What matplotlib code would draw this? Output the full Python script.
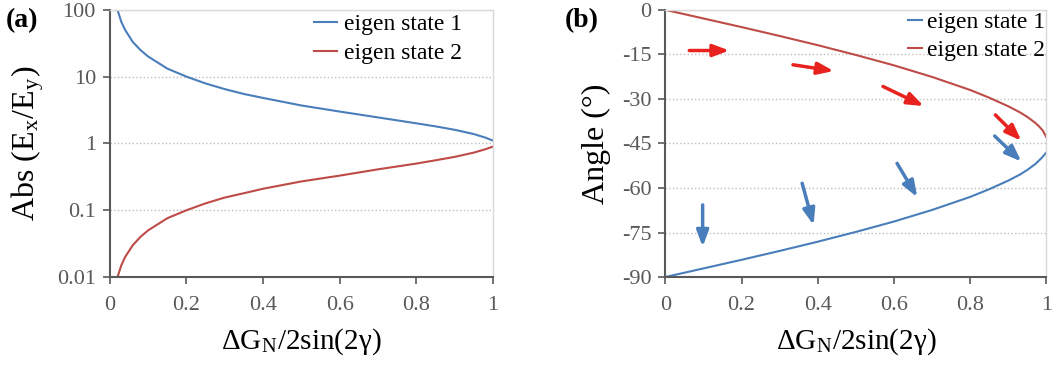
import matplotlib
matplotlib.use('Agg')
import matplotlib.pyplot as plt
import numpy as np

plt.rcParams['font.family'] = ['Liberation Serif', 'DejaVu Serif']
plt.rcParams['mathtext.fontset'] = 'stix'
plt.rcParams['axes.unicode_minus'] = False

# panel (a) : Abs(Ex/Ey) vs dG/2sin(2g)
x_abs = [0.02, 0.03, 0.04, 0.06, 0.08, 0.1, 0.15, 0.2, 0.25, 0.3, 0.35, 0.4,
         0.5, 0.6, 0.7, 0.8, 0.85, 0.9, 0.95, 0.98, 1.0]
abs_state1 = [100, 66, 50, 33, 25, 20, 13.2, 10, 7.9, 6.5, 5.5, 4.8,
              3.7, 3.0, 2.45, 2.0, 1.8, 1.6, 1.38, 1.22, 1.1]
abs_state2 = [0.01, 0.015, 0.02, 0.03, 0.04, 0.05, 0.076, 0.1, 0.127, 0.155, 0.18, 0.21,
              0.27, 0.33, 0.41, 0.5, 0.56, 0.63, 0.73, 0.82, 0.9]

# panel (b) : angle in degrees
x_ang = [0.0, 0.1, 0.2, 0.3, 0.4, 0.5, 0.6, 0.7, 0.8, 0.85, 0.9, 0.93, 0.95, 0.97, 0.98, 0.99, 1.0]
ang_state1 = [-90, -87.1, -84.2, -81.2, -78.1, -74.8, -71.3, -67.4, -63.0, -60.4, -57.5,
              -55.5, -53.9, -52.0, -50.8, -49.5, -48]
ang_state2 = [0, -2.9, -5.8, -8.8, -11.9, -15.2, -18.7, -22.6, -27.0, -29.6, -32.5,
              -34.5, -36.1, -38.0, -39.2, -40.6, -43]

# little polarisation arrows in (b): (x0, y0, x1, y1)
red_arrows = [(0.063, -13.7, 0.168, -13.7), (0.335, -18.5, 0.442, -20.6),
              (0.571, -25.8, 0.678, -32.4), (0.866, -35.4, 0.934, -44.1)]
blue_arrows = [(0.098, -65.7, 0.098, -79.8), (0.359, -58.4, 0.389, -72.5),
               (0.608, -51.7, 0.661, -63.1), (0.864, -42.5, 0.934, -51.1)]

c1 = '#4a7ebb'
c2 = '#be4b48'
tick_col = '#595959'
arrow_style = '-|>,head_length=0.8,head_width=0.3'


def style(ax):
    for s in ['top', 'right']:
        ax.spines[s].set_color('#d9d9d9')
        ax.spines[s].set_linewidth(1.0)
    for s in ['left', 'bottom']:
        ax.spines[s].set_color('#595959')
        ax.spines[s].set_linewidth(1.5)
    ax.tick_params(axis='both', direction='out', length=5, width=1.2, color='#595959',
                   labelsize=16, labelcolor=tick_col, pad=5)
    ax.tick_params(axis='x', pad=9)
    ax.tick_params(which='minor', length=0)
    ax.grid(axis='y', linestyle=':', color='#bfbfbf', linewidth=1.0)
    ax.set_axisbelow(True)
    ax.set_xlim(0, 1)
    ax.set_xticks([0, 0.2, 0.4, 0.6, 0.8, 1])
    ax.set_xticklabels(['0', '0.2', '0.4', '0.6', '0.8', '1'])
    ax.set_xlabel('ΔG$_\\mathregular{N}$/2sin(2γ)', fontsize=21, labelpad=8)


fig = plt.figure(figsize=(10.56, 3.65), dpi=100)
ax1 = fig.add_axes([0.104, 0.241, 0.363, 0.732])
ax2 = fig.add_axes([0.630, 0.241, 0.361, 0.732])

# (a)
ax1.plot(x_abs, abs_state1, color=c1, lw=1.5, label='eigen state 1')
ax1.plot(x_abs, abs_state2, color=c2, lw=1.5, label='eigen state 2')
ax1.set_yscale('log')
ax1.set_ylim(0.01, 100)
ax1.set_yticks([0.01, 0.1, 1, 10, 100])
ax1.set_yticklabels(['0.01', '0.1', '1', '10', '100'])
style(ax1)
ax1.set_ylabel('Abs (E$_\\mathregular{x}$/E$_\\mathregular{y}$)', fontsize=23, labelpad=8)
ax1.legend(loc='upper right', bbox_to_anchor=(0.945, 1.02), frameon=False, fontsize=17,
           handlelength=1.0, handletextpad=0.3, labelspacing=0.3, borderaxespad=0.0)

# (b)
ax2.plot(x_ang, ang_state1, color=c1, lw=1.5, label='eigen state 1')
ax2.plot(x_ang, ang_state2, color=c2, lw=1.5, label='eigen state 2')
ax2.set_ylim(-90, 0)
ax2.set_yticks([-90, -75, -60, -45, -30, -15, 0])
style(ax2)
ax2.set_ylabel('Angle (°)', fontsize=23, labelpad=8)
ax2.legend(loc='upper right', bbox_to_anchor=(1.02, 1.03), frameon=False, fontsize=17,
           handlelength=0.6, handletextpad=0.2, labelspacing=0.3, borderaxespad=0.0)

for x0, y0, x1, y1 in red_arrows:
    ax2.annotate('', xy=(x1, y1), xytext=(x0, y0),
                 arrowprops=dict(arrowstyle=arrow_style, color='#e8221e', lw=2.5,
                                 mutation_scale=12, shrinkA=0, shrinkB=0))
for x0, y0, x1, y1 in blue_arrows:
    ax2.annotate('', xy=(x1, y1), xytext=(x0, y0),
                 arrowprops=dict(arrowstyle=arrow_style, color='#4a7ebb', lw=2.5,
                                 mutation_scale=12, shrinkA=0, shrinkB=0))

fig.text(0.005, 0.925, '(a)', fontsize=20, fontweight='bold')
fig.text(0.535, 0.925, '(b)', fontsize=20, fontweight='bold')

fig.savefig('out.png', dpi=100)
